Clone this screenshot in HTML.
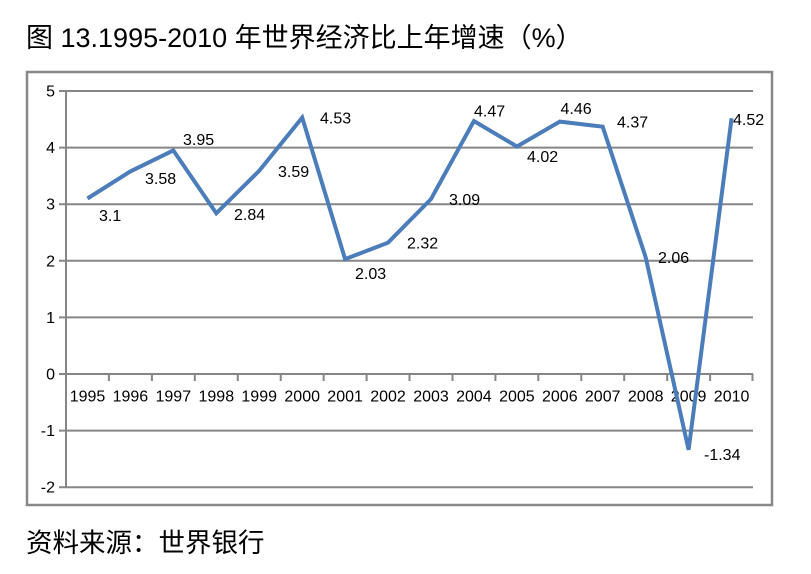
<!DOCTYPE html>
<html><head><meta charset="utf-8"><style>
html,body{margin:0;padding:0;background:#fff;}
svg{display:block;}
text{font-family:"Liberation Sans","Noto Sans CJK SC",sans-serif;fill:#000;}
</style></head><body>
<svg width="811" height="574" viewBox="0 0 811 574" xmlns="http://www.w3.org/2000/svg">
<text x="26" y="47" font-size="27">图 13.1995-2010 年世界经济比上年增速（%）</text>
<rect x="27" y="72" width="745" height="433" fill="none" stroke="#888" stroke-width="2.5"/>
<g stroke="#868686" stroke-width="2">
<line x1="59" y1="91" x2="753" y2="91"/>
<line x1="59" y1="147.6" x2="753" y2="147.6"/>
<line x1="59" y1="204.2" x2="753" y2="204.2"/>
<line x1="59" y1="260.8" x2="753" y2="260.8"/>
<line x1="59" y1="317.4" x2="753" y2="317.4"/>
<line x1="59" y1="374" x2="753" y2="374"/>
<line x1="59" y1="430.6" x2="753" y2="430.6"/>
<line x1="59" y1="487.2" x2="753" y2="487.2"/>
<line x1="66" y1="91" x2="66" y2="488"/>
<line x1="108.9" y1="374" x2="108.9" y2="381"/>
<line x1="151.9" y1="374" x2="151.9" y2="381"/>
<line x1="194.8" y1="374" x2="194.8" y2="381"/>
<line x1="237.8" y1="374" x2="237.8" y2="381"/>
<line x1="280.7" y1="374" x2="280.7" y2="381"/>
<line x1="323.6" y1="374" x2="323.6" y2="381"/>
<line x1="366.6" y1="374" x2="366.6" y2="381"/>
<line x1="409.5" y1="374" x2="409.5" y2="381"/>
<line x1="452.5" y1="374" x2="452.5" y2="381"/>
<line x1="495.4" y1="374" x2="495.4" y2="381"/>
<line x1="538.3" y1="374" x2="538.3" y2="381"/>
<line x1="581.3" y1="374" x2="581.3" y2="381"/>
<line x1="624.2" y1="374" x2="624.2" y2="381"/>
<line x1="667.2" y1="374" x2="667.2" y2="381"/>
<line x1="710.1" y1="374" x2="710.1" y2="381"/>
<line x1="752.5" y1="374" x2="752.5" y2="381"/>
</g>
<g font-size="16" text-anchor="end">
<text x="55" y="96.5">5</text>
<text x="55" y="153">4</text>
<text x="55" y="209.7">3</text>
<text x="55" y="266.3">2</text>
<text x="55" y="322.9">1</text>
<text x="55" y="379.5">0</text>
<text x="55" y="436">-1</text>
<text x="55" y="492.7">-2</text>
</g>
<g font-size="16" text-anchor="middle">
<text x="87.5" y="401.5">1995</text>
<text x="130.4" y="401.5">1996</text>
<text x="173.3" y="401.5">1997</text>
<text x="216.3" y="401.5">1998</text>
<text x="259.2" y="401.5">1999</text>
<text x="302.2" y="401.5">2000</text>
<text x="345.1" y="401.5">2001</text>
<text x="388.0" y="401.5">2002</text>
<text x="431.0" y="401.5">2003</text>
<text x="473.9" y="401.5">2004</text>
<text x="516.9" y="401.5">2005</text>
<text x="559.8" y="401.5">2006</text>
<text x="602.7" y="401.5">2007</text>
<text x="645.7" y="401.5">2008</text>
<text x="688.6" y="401.5">2009</text>
<text x="731.6" y="401.5">2010</text>
</g>
<polyline fill="none" stroke="#4a7dba" stroke-width="4" stroke-linejoin="miter" points="87.5,198.5 130.4,171.4 173.3,150.4 216.3,213.3 259.2,170.8 302.2,117.6 345.1,259.1 388.0,242.7 431.0,199.1 473.9,121.0 516.9,146.5 559.8,121.6 602.7,126.7 645.7,257.4 688.6,449.8 731.6,118.2"/>
<g font-size="16">
<text x="99" y="221">3.1</text>
<text x="145" y="184">3.58</text>
<text x="183" y="145">3.95</text>
<text x="234" y="220">2.84</text>
<text x="278" y="177">3.59</text>
<text x="320" y="123.5">4.53</text>
<text x="355" y="279">2.03</text>
<text x="407" y="248.5">2.32</text>
<text x="449" y="205">3.09</text>
<text x="474" y="116.5">4.47</text>
<text x="527" y="162">4.02</text>
<text x="560.5" y="114">4.46</text>
<text x="617" y="127.5">4.37</text>
<text x="658" y="263">2.06</text>
<text x="704" y="460">-1.34</text>
<text x="733" y="125">4.52</text>
</g>
<text x="26" y="552" font-size="26.5">资料来源：世界银行</text>
</svg>
</body></html>
